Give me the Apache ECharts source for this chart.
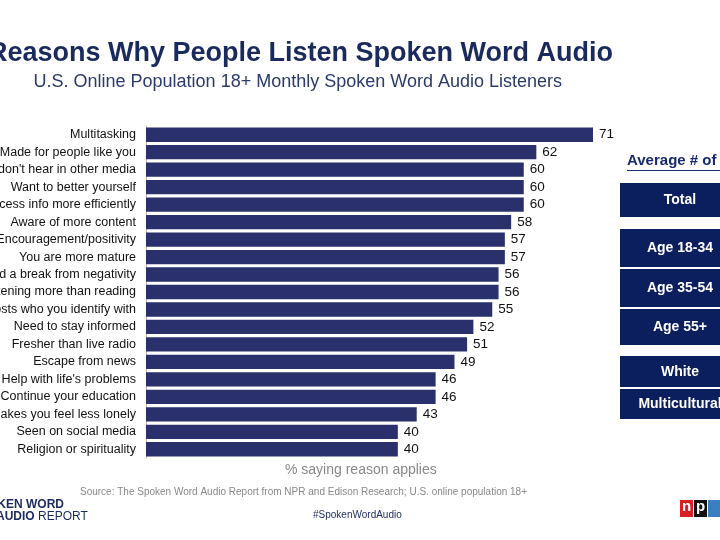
<!DOCTYPE html>
<html><head><meta charset="utf-8">
<script src="https://cdn.jsdelivr.net/npm/echarts@6/dist/echarts.min.js"></script>
<style>html,body{margin:0;padding:0;background:#fff}#c{width:720px;height:540px}</style>
</head><body><div id="c"></div>
<script>
var reasons = ['Multitasking', 'Made for people like you', "Content you don't hear in other media", 'Want to better yourself',
  'Process info more efficiently', 'Aware of more content', 'Encouragement/positivity', 'You are more mature',
  'Need a break from negativity', 'Enjoy listening more than reading', 'Hosts who you identify with', 'Need to stay informed',
  'Fresher than live radio', 'Escape from news', "Help with life's problems", 'Continue your education',
  'Makes you feel less lonely', 'Seen on social media', 'Religion or spirituality'];
var pct = [71, 62, 60, 60, 60, 58, 57, 57, 56, 56, 55, 52, 51, 49, 46, 46, 43, 40, 40];
var groups = ['Total', 'Age 18-34', 'Age 35-54', 'Age 55+', 'White', 'Multicultural'];

var chart = echarts.init(document.getElementById('c'));
var boxes = [[183, 35], [229, 39], [269, 39], [309, 37], [356, 32], [389, 31]];
var g = [
  {type: 'text', right: 107, top: 40, style: {text: 'Top Reasons Why People Listen Spoken Word Audio', font: 'bold 27px Arial, "Liberation Sans"', fill: '#1b2a5c', textAlign: 'right'}},
  {type: 'text', right: 158, top: 73, style: {text: 'U.S. Online Population 18+ Monthly Spoken Word Audio Listeners', font: '18px Arial, "Liberation Sans"', fill: '#2b3a6b', textAlign: 'right'}},
  {type: 'text', left: 627, top: 153, style: {text: 'Average # of Reasons', font: 'bold 15px Arial, "Liberation Sans"', fill: '#1a2a6e'}},
  {type: 'rect', shape: {x: 627, y: 170, width: 120, height: 1}, style: {fill: '#1a2a6e'}},
  {type: 'text', left: 285, top: 463, style: {text: '% saying reason applies', font: '14px Arial, "Liberation Sans"', fill: '#888'}},
  {type: 'text', left: 80, top: 487, style: {text: 'Source: The Spoken Word Audio Report from NPR and Edison Research; U.S. online population 18+', font: '10px Arial, "Liberation Sans"', fill: '#888'}},
  {type: 'text', left: 313, top: 510, style: {text: '#SpokenWordAudio', font: '10px Arial, "Liberation Sans"', fill: '#1b2a5c'}},
  {type: 'text', left: -28, top: 499, style: {text: 'SPOKEN WORD', font: 'bold 12px Arial, "Liberation Sans"', fill: '#1b2a5c'}},
  {type: 'text', left: -4, top: 511, style: {rich: {b: {font: 'bold 12px Arial', fill: '#1b2a5c'}, n: {font: '12px Arial', fill: '#1b2a5c'}}, text: '{b|AUDIO} {n|REPORT}'}},
  {type: 'rect', shape: {x: 680, y: 500, width: 13, height: 17}, style: {fill: '#d62021'}},
  {type: 'rect', shape: {x: 694, y: 500, width: 13, height: 17}, style: {fill: '#111'}},
  {type: 'rect', shape: {x: 708, y: 500, width: 13, height: 17}, style: {fill: '#3a7fc1'}},
  {type: 'text', left: 682, top: 499, style: {text: 'n', font: 'bold 15px Arial', fill: '#fff'}},
  {type: 'text', left: 696, top: 499, style: {text: 'p', font: 'bold 15px Arial', fill: '#fff'}}
];
groups.forEach(function (name, i) {
  g.push({type: 'rect', shape: {x: 620, y: boxes[i][0], width: 110, height: boxes[i][1] - 1}, style: {fill: '#0b1f5e'}});
  g.push({type: 'text', x: 680, y: boxes[i][0] + boxes[i][1] / 2, style: {text: name, font: 'bold 14px Arial, "Liberation Sans"', fill: '#fff', textAlign: 'center', textVerticalAlign: 'middle'}});
});

chart.setOption({
  animation: false,
  graphic: g,
  grid: {left: 146, top: 126, width: 447, height: 332, containLabel: false, outerBoundsMode: 'none'},
  xAxis: {type: 'value', min: 0, max: 71, show: false},
  yAxis: {
    type: 'category', data: reasons, inverse: true,
    axisLine: {show: true, lineStyle: {color: '#bbb'}}, axisTick: {show: false},
    axisLabel: {color: '#111', fontSize: 12.5, fontFamily: 'Arial, "Liberation Sans"', margin: 10}
  },
  series: [{
    type: 'bar', data: pct, barCategoryGap: '18%',
    itemStyle: {color: '#29306b'},
    label: {show: true, position: 'right', color: '#111', fontSize: 13.5, fontFamily: 'Arial, "Liberation Sans"', distance: 6}
  }]
});
</script></body></html>
